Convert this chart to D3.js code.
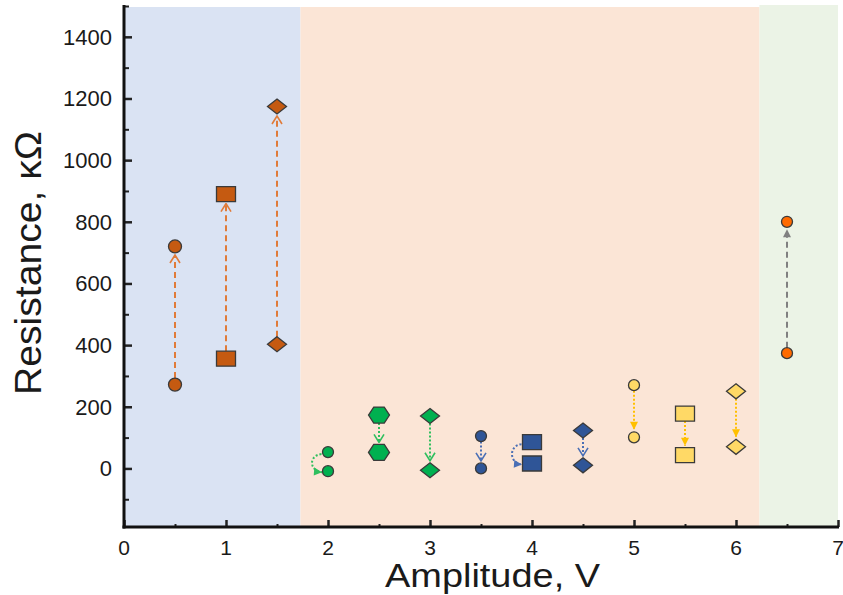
<!DOCTYPE html>
<html>
<head>
<meta charset="utf-8">
<script src="https://cdn.jsdelivr.net/npm/d3@7"></script>
<style>
  body { margin: 0; background: #fff; }
  text { font-family: "Liberation Sans", Arial, sans-serif; fill: #1a1a1a; }
</style>
</head>
<body>
<svg id="chart" width="843" height="595"></svg>
<script>
// data
var amplitude = [0.5, 1, 1.5, 2, 2.5, 3, 3.5, 4, 4.5, 5, 5.5, 6, 6.5];
var rStart = [272, 356, 403, 53, 173, 170, 105, 85, 123, 270, 178, 250, 374];
var rEnd = [720, 890, 1174, -9, 52, -6, 0, 16, 10, 101, 43, 70, 800];
var shapes = ["circle", "square", "diamond", "circle", "hexagon", "diamond",
              "circle", "square", "diamond", "circle", "square", "diamond", "circle"];
var groups = ["brown", "brown", "brown", "green", "green", "green",
              "blue", "blue", "blue", "yellow", "yellow", "yellow", "red"];
var arrowKind = ["straight", "straight", "straight", "curved", "straight", "straight",
                 "straight", "curved", "straight", "straight", "straight", "straight", "straight"];
var bandEdges = [0, 1.73, 6.23, 7];
var xTicks = [0, 1, 2, 3, 4, 5, 6, 7];
var yTicks = [0, 200, 400, 600, 800, 1000, 1200, 1400];

// styles
var fillOf = { brown: "#c55a11", green: "#00b050", blue: "#2f5597", yellow: "#ffd966", red: "#ff6a00" };
var lineOf = { brown: "#e07b39", green: "#2fbf5e", blue: "#4a6fb5", yellow: "#ffc000", red: "#808080" };
var dashOf = { brown: "6,4", green: "2,2", blue: "2,2", yellow: "2,2", red: "6,4" };
var headOf = { brown: "open", green: "open", blue: "open", yellow: "fill", red: "fill" };
var bandColors = ["#dae3f3", "#fbe5d6", "#ebf3e6"];

var svg = d3.select("#chart");
var x = d3.scaleLinear().domain([0, 7]).range([124, 838]);
var y = d3.scaleLinear().domain([-190, 1500]).range([527, 6]);

// background bands
svg.selectAll("rect.band")
    .data(bandColors)
    .enter()
    .append("rect")
    .attr("class", "band")
    .attr("x", function(d, i) { return x(bandEdges[i]); })
    .attr("width", function(d, i) { return x(bandEdges[i + 1]) - x(bandEdges[i]); })
    .attr("y", function(d, i) { return i == 2 ? 5 : 7; })
    .attr("height", function(d, i) { return y(-190) - (i == 2 ? 5 : 7); })
    .attr("fill", function(d) { return d; });

// arrow heads, an open and a filled one per colour
var defs = svg.append("defs");
Object.keys(fillOf).forEach(function(g) {
    ["open", "fill"].forEach(function(kind) {
        var m = defs.append("marker")
            .attr("id", "head-" + kind + "-" + g)
            .attr("markerUnits", "userSpaceOnUse")
            .attr("viewBox", "0 -6 10 12")
            .attr("refX", 9)
            .attr("refY", 0)
            .attr("markerWidth", 10)
            .attr("markerHeight", 12)
            .attr("orient", "auto");
        if (kind == "open") {
            m.append("path").attr("d", "M1,-5L9,0L1,5")
                .attr("fill", "none").attr("stroke", lineOf[g]).attr("stroke-width", 1.6);
        } else {
            m.append("path").attr("d", "M1,-4L9,0L1,4Z").attr("fill", lineOf[g]);
        }
    });
});

var sizeOf = { circle: [11, 11], square: [19, 15], diamond: [19, 15], hexagon: [21, 16] };
function halfH(i) {
    var s = sizeOf[shapes[i]];
    if (groups[i] == "brown" && shapes[i] == "circle") return 6.5;
    return s[1] / 2;
}

var idx = d3.range(amplitude.length);

// arrows
svg.selectAll("path.arrow")
    .data(idx)
    .enter()
    .append("path")
    .attr("class", "arrow")
    .attr("fill", "none")
    .attr("stroke", function(i) { return lineOf[groups[i]]; })
    .attr("stroke-width", 2)
    .attr("stroke-dasharray", function(i) { return dashOf[groups[i]]; })
    .attr("marker-end", function(i) {
        var kind = arrowKind[i] == "curved" ? "fill" : headOf[groups[i]];
        return "url(#head-" + kind + "-" + groups[i] + ")";
    })
    .attr("d", function(i) {
        var cx = x(amplitude[i]);
        var y0 = y(rStart[i]), y1 = y(rEnd[i]);
        var dir = y1 > y0 ? 1 : -1;
        if (arrowKind[i] == "curved") {
            var w = sizeOf[shapes[i]][0] / 2;
            var sx = cx - w - 1, ex = cx - w - 0.5;
            var sy = y0 + 2, ey = y1 + 1;
            return "M" + sx + "," + sy + "C" + (sx - 13) + "," + (sy + 1) + " " +
                (ex - 13) + "," + (ey - 1) + " " + ex + "," + ey;
        }
        var a = y0 + dir * halfH(i);
        var b = y1 - dir * (halfH(i) + 2);
        return "M" + cx + "," + a + "L" + cx + "," + b;
    });

// marker shapes
function shapePath(shape, w, h) {
    var a = w / 2, b = h / 2;
    if (shape == "square") return "M" + -a + "," + -b + "H" + a + "V" + b + "H" + -a + "Z";
    if (shape == "diamond") return "M0," + -b + "L" + a + ",0L0," + b + "L" + -a + ",0Z";
    if (shape == "hexagon") return "M" + -a + ",0L" + (-a / 2) + "," + -b + "L" + (a / 2) + "," + -b +
        "L" + a + ",0L" + (a / 2) + "," + b + "L" + (-a / 2) + "," + b + "Z";
    return d3.symbol().type(d3.symbolCircle).size(Math.PI * a * a)();
}

var pts = [];
idx.forEach(function(i) {
    pts.push({ i: i, v: rStart[i] });
    pts.push({ i: i, v: rEnd[i] });
});

svg.selectAll("path.pt")
    .data(pts)
    .enter()
    .append("path")
    .attr("class", "pt")
    .attr("transform", function(d) { return "translate(" + x(amplitude[d.i]) + "," + y(d.v) + ")"; })
    .attr("d", function(d) {
        var s = sizeOf[shapes[d.i]];
        var w = s[0], h = s[1];
        if (shapes[d.i] == "circle" && groups[d.i] == "brown") { w = 13; h = 13; }
        return shapePath(shapes[d.i], w, h);
    })
    .attr("fill", function(d) { return fillOf[groups[d.i]]; })
    .attr("stroke", "#3a3a3a")
    .attr("stroke-width", 1.3);

// axes
var yMinor = d3.range(-100, 1501, 100).filter(function(v) { return v % 200 != 0; });
var xMinor = d3.range(0.5, 7, 1);

svg.append("g")
    .attr("transform", "translate(124,0)")
    .call(d3.axisRight(y).tickValues(yMinor).tickSize(5).tickFormat(""))
    .call(function(g) { g.select(".domain").remove(); })
    .selectAll("line").attr("stroke", "#222").attr("stroke-width", 2);

svg.append("g")
    .attr("transform", "translate(124,0)")
    .call(d3.axisRight(y).tickValues(yTicks).tickSize(8).tickFormat(""))
    .call(function(g) { g.select(".domain").remove(); })
    .selectAll("line").attr("stroke", "#222").attr("stroke-width", 2.5);

svg.append("g")
    .attr("transform", "translate(0,527)")
    .call(d3.axisTop(x).tickValues(xMinor).tickSize(3).tickFormat(""))
    .call(function(g) { g.select(".domain").remove(); })
    .selectAll("line").attr("stroke", "#222").attr("stroke-width", 2);

svg.append("g")
    .attr("transform", "translate(0,527)")
    .call(d3.axisTop(x).tickValues(xTicks).tickSize(7).tickFormat(""))
    .call(function(g) { g.select(".domain").remove(); })
    .selectAll("line").attr("stroke", "#222").attr("stroke-width", 2.5);

svg.append("line")
    .attr("x1", 124).attr("x2", 124).attr("y1", 5).attr("y2", 528.5)
    .attr("stroke", "#111").attr("stroke-width", 3);
svg.append("line")
    .attr("x1", 122.5).attr("x2", 839).attr("y1", 527).attr("y2", 527)
    .attr("stroke", "#111").attr("stroke-width", 3);

// tick labels
svg.selectAll("text.ylab")
    .data(yTicks)
    .enter()
    .append("text")
    .attr("class", "ylab")
    .attr("x", 112)
    .attr("y", function(d) { return y(d); })
    .attr("dy", "0.36em")
    .attr("text-anchor", "end")
    .style("font-size", "22px")
    .text(function(d) { return d; });

svg.selectAll("text.xlab")
    .data(xTicks)
    .enter()
    .append("text")
    .attr("class", "xlab")
    .attr("x", function(d) { return x(d); })
    .attr("y", 555)
    .attr("text-anchor", "middle")
    .style("font-size", "21px")
    .text(function(d) { return d; });

// axis titles
svg.append("text")
    .attr("x", 385)
    .attr("y", 587)
    .attr("textLength", 215)
    .attr("lengthAdjust", "spacingAndGlyphs")
    .style("font-size", "33px")
    .text("Amplitude, V");

svg.append("text")
    .attr("transform", "translate(41,395) rotate(-90)")
    .attr("textLength", 264)
    .attr("lengthAdjust", "spacingAndGlyphs")
    .style("font-size", "36px")
    .text("Resistance, κΩ");
</script>
</body>
</html>
